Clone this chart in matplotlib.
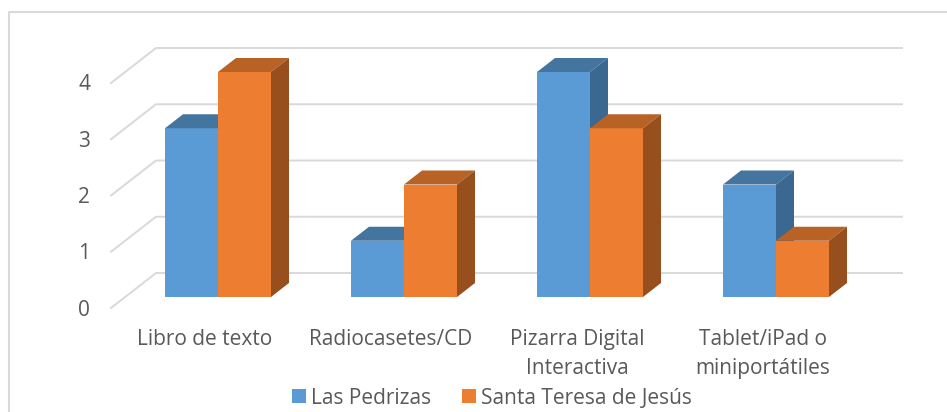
import matplotlib
matplotlib.use('Agg')
import matplotlib.pyplot as plt
from matplotlib.patches import Polygon, Rectangle

categories = ['Libro de texto', 'Radiocasetes/CD', 'Pizarra Digital\nInteractiva', 'Tablet/iPad o\nminiportátiles']
las_pedrizas = [3, 1, 4, 2]
santa_teresa = [4, 2, 3, 1]
y_ticks = [0, 1, 2, 3, 4]

W, H = 947, 412
# one data unit in pixels
PX_X = 186.0
PX_Y = 56.25
BAR = 53 / PX_X
DX = 18 / PX_X
DY = 14 / PX_Y

plt.rcParams['font.family'] = ['Open Sans', 'DejaVu Sans']
fig = plt.figure(figsize=(W / 100, H / 100), dpi=100)

# axes fill the figure, scaled so that x=0 is px 218 and y=0 is px 297
ax = fig.add_axes([0, 0, 1, 1])
ax.set_xlim((0 - 218) / PX_X, (W - 218) / PX_X)
ax.set_ylim((297 - H) / PX_Y, 297 / PX_Y)
ax.axis('off')

# chart frame runs off the right and bottom of the picture
fig.add_artist(plt.Line2D([8.5 / W, 8.5 / W, 1], [0, 1 - 11.5 / H, 1 - 11.5 / H], color='#d9d9d9', lw=1.5))

# floor/back gridlines
x_front = (111 - 218) / PX_X
x_back = (156 - 218) / PX_X
x_end = (902 - 218) / PX_X
for v in y_ticks:
    y_front = v - 11 / PX_Y
    y_back = v + 24 / PX_Y
    ax.plot([x_front, x_back, x_end], [y_front, y_back, y_back], color='#d9d9d9', lw=1.4, zorder=1)
    ax.text((84 - 218) / PX_X, y_front - 2 / PX_Y, str(v), ha='center', va='center', color='#595959', fontsize=15)


def draw_bars(xs, vals, col, top_col, side_col, z):
    ax.bar(xs, vals, BAR, align='edge', color=col, zorder=z)
    for x, v in zip(xs, vals):
        ax.add_patch(Polygon([(x, v), (x + DX, v + DY), (x + BAR + DX, v + DY), (x + BAR, v)],
                             fc=top_col, ec='none', zorder=z))
        ax.add_patch(Polygon([(x + BAR, 0), (x + BAR + DX, DY), (x + BAR + DX, v + DY), (x + BAR, v)],
                             fc=side_col, ec='none', zorder=z))


pos = range(len(categories))
draw_bars([i - BAR for i in pos], las_pedrizas, '#5b9bd5', '#44759f', '#3b6890', 3)
draw_bars([i for i in pos], santa_teresa, '#ed7d31', '#b86226', '#974f1d', 4)

for i, c in zip(pos, categories):
    ax.text(i - 13 / PX_X, (297 - 329) / PX_Y, c, ha='center', va='top', color='#595959',
            fontsize=15, linespacing=1.5)

# legend, real handles
handles = [Rectangle((0, 0), 1, 1, fc='#5b9bd5'), Rectangle((0, 0), 1, 1, fc='#ed7d31')]
fig.legend(handles, ['Las Pedrizas', 'Santa Teresa de Jesús'], loc='center', ncol=2, frameon=False,
           bbox_to_anchor=(492 / W, 1 - 398 / H), fontsize=15, labelcolor='#595959',
           handlelength=0.67, handleheight=0.67, handletextpad=0.25, columnspacing=1.5,
           borderpad=0, borderaxespad=0)

fig.savefig('out.png', dpi=100)
